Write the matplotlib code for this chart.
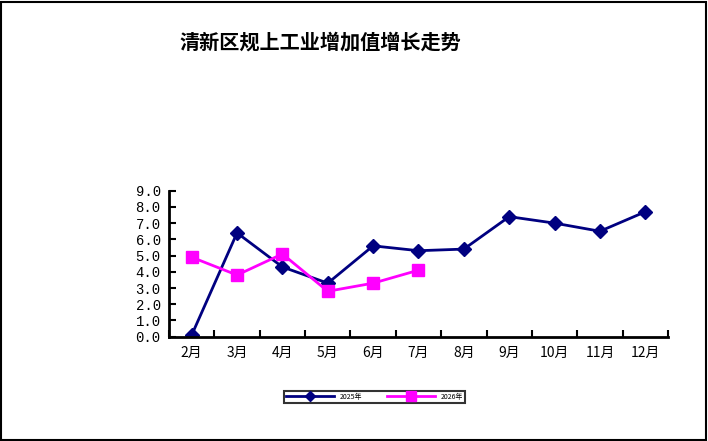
import matplotlib.pyplot as plt
from matplotlib.patches import Rectangle

plt.rcParams['font.family'] = ['Noto Sans CJK SC', 'DejaVu Sans']

# 数据
meses = ['2月', '3月', '4月', '5月', '6月', '7月', '8月', '9月', '10月', '11月', '12月']
valores_2025 = [0.1, 6.4, 4.3, 3.3, 5.6, 5.3, 5.4, 7.4, 7.0, 6.5, 7.7]
valores_2026 = [4.9, 3.8, 5.1, 2.8, 3.3, 4.1]
rotulos_y = ['0.0', '1.0', '2.0', '3.0', '4.0', '5.0', '6.0', '7.0', '8.0', '9.0']

fig = plt.figure(figsize=(7.08, 4.41), dpi=100)
ax = fig.add_axes([0.2387, 0.2365, 0.7048, 0.3311])

x = list(range(len(meses)))
ax.plot(x, valores_2025, color='#000080', lw=2, marker='D', ms=7,
        label='2025年')
ax.plot(x[:len(valores_2026)], valores_2026, color='#FF00FF', lw=2,
        marker='s', ms=9, label='2026年')

ax.set_xlim(-0.5, len(meses) - 0.5)
ax.set_ylim(0, 9)
ax.set_yticks(range(10))
ax.set_yticklabels(rotulos_y, family='Liberation Mono', fontsize=10)
ax.set_xticks(x)
ax.set_xticklabels(meses, fontsize=10)
ax.set_xticks([i + 0.5 for i in range(-1, len(meses))], minor=True)
ax.tick_params(axis='x', which='major', length=0, pad=7)
ax.tick_params(axis='x', which='minor', direction='in', length=5, width=1.5)
ax.tick_params(axis='y', direction='in', length=5, width=1.5, pad=6)

for lado in ['top', 'right']:
    ax.spines[lado].set_visible(False)
for lado in ['left', 'bottom']:
    ax.spines[lado].set_linewidth(2)

fig.text(0.452, 0.905, '清新区规上工业增加值增长走势', ha='center', va='center',
         fontsize=14.5, fontweight='bold')

leg = fig.legend(loc='center', bbox_to_anchor=(0.529, 0.1), ncol=2,
                 fontsize=5, frameon=True, fancybox=False, edgecolor='black',
                 handlelength=7, columnspacing=3.5, borderpad=0.3,
                 markerscale=0.8)
leg.get_frame().set_linewidth(1.5)

fig.patches.append(Rectangle((0.002, 0.003), 0.995, 0.993, transform=fig.transFigure,
                             fill=False, edgecolor='black', lw=1.5))

fig.savefig('out.png', dpi=100)
